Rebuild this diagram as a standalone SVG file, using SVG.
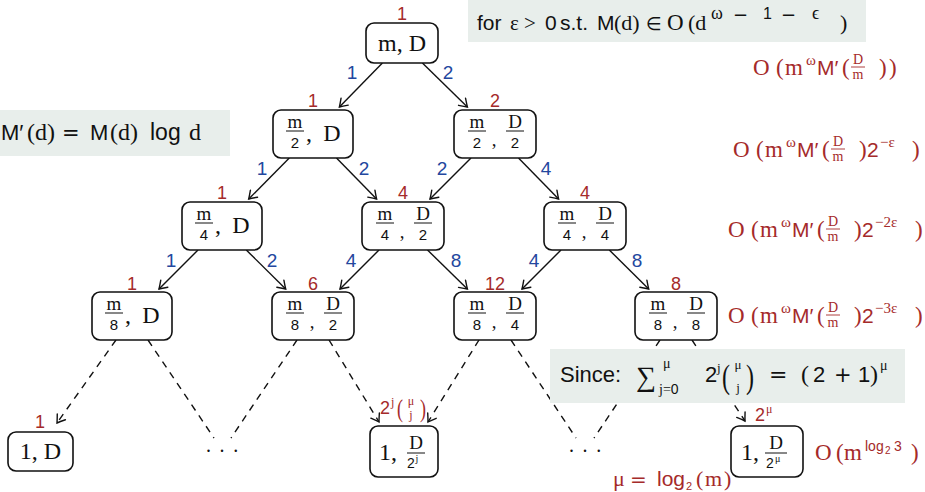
<svg xmlns="http://www.w3.org/2000/svg" width="925" height="492" viewBox="0 0 925 492">
  <defs>
    <marker id="tip" viewBox="-9 -6 11 12" refX="0" refY="0" markerWidth="11" markerHeight="12" markerUnits="userSpaceOnUse" orient="auto">
      <path d="M-7.5,-5 Q-2.5,-1.5 0,0 Q-2.5,1.5 -7.5,5" fill="none" stroke="#111" stroke-width="1.4" stroke-linecap="round"/>
    </marker>
    <style>
      .box{fill:#fff;stroke:#111;stroke-width:1.6}
      .edge{fill:none;stroke:#111;stroke-width:1.4}
      .arrow{marker-end:url(#tip)}
      .dash{stroke-dasharray:7 6}
      .note{fill:#e8eeeb}
      .sf{font-family:"Liberation Sans",Arial,sans-serif}
      .rm{font-family:"Liberation Serif","Times New Roman",serif}
      .op{font-family:"DejaVu Sans","Liberation Sans",sans-serif;font-weight:normal}
      .ink{fill:#111}
      .red{fill:#a52a2a}
      .mid{text-anchor:middle}
      .cnt{font-family:"Liberation Sans",Arial,sans-serif;font-size:18px;fill:#a52a2a;text-anchor:middle}
      .wt{font-family:"Liberation Sans",Arial,sans-serif;font-size:19px;fill:#23479e;text-anchor:middle}
      .num{font-family:"Liberation Serif","Times New Roman",serif;font-size:19px;text-anchor:middle;fill:#111}
      .den{font-family:"Liberation Sans",Arial,sans-serif;font-size:15px;text-anchor:middle;fill:#111}
      .big{font-family:"Liberation Serif","Times New Roman",serif;font-size:24px;fill:#111}
      .bar{stroke:#111;stroke-width:1}
      .rbar{stroke:#a52a2a;stroke-width:0.9}
    </style>
  </defs>

  <!-- side notes -->
  <g id="note-eps" class="ink">
    <rect class="note" x="468" y="-2" width="398" height="44"/>
    <text y="30" font-size="21"><tspan class="sf" x="477">for</tspan><tspan class="rm" x="510">ε</tspan><tspan class="rm" x="524">&gt;</tspan><tspan class="sf" x="545">0</tspan><tspan class="sf" x="560">s.t.</tspan><tspan class="sf" x="597">M</tspan><tspan class="rm" x="614" font-size="22">(d)</tspan><tspan class="op" x="646" font-size="18">∈</tspan><tspan class="rm" x="667" font-size="23">O</tspan><tspan class="rm" x="688" font-size="22">(d</tspan><tspan class="rm" x="840" font-size="22">)</tspan></text>
    <text y="19"><tspan class="rm" x="711" font-size="18">ω</tspan><tspan class="op" x="733" y="21" font-size="18">−</tspan><tspan class="sf" x="763" y="19" font-size="16">1</tspan><tspan class="op" x="781" y="21" font-size="18">−</tspan><tspan class="rm" x="812" y="19" font-size="18">ϵ</tspan></text>
  </g>
  <g id="note-mprime" class="ink">
    <rect class="note" x="-2" y="110" width="232" height="46"/>
    <text y="140" font-size="24"><tspan class="sf" x="1" font-size="22">M′</tspan><tspan class="rm" x="27">(d)</tspan><tspan class="op" x="62" font-size="21">=</tspan><tspan class="sf" x="90" font-size="22">M</tspan><tspan class="rm" x="110">(d)</tspan><tspan class="sf" x="150" font-size="23">log</tspan><tspan class="rm" x="189">d</tspan></text>
  </g>

  <!-- level costs -->
  <g id="cost-0" class="red">
    <text y="75" font-size="23"><tspan class="rm" x="753">O</tspan><tspan class="rm" x="776">(</tspan><tspan class="rm" x="785">m</tspan><tspan class="rm" x="806" y="65" font-size="15">ω</tspan><tspan class="sf" x="817" y="75" font-size="21">M′</tspan><tspan class="rm" x="842">(</tspan><tspan class="rm" x="879">)</tspan><tspan class="rm" x="889">)</tspan></text>
    <text class="rm mid" x="858" y="64" font-size="14">D</text>
    <line class="rbar" x1="851" y1="67" x2="865" y2="67"/>
    <text class="rm mid" x="858" y="79" font-size="14">m</text>
  </g>
  <g id="cost-1" class="red">
    <text y="157" font-size="23"><tspan class="rm" x="733">O</tspan><tspan class="rm" x="756">(</tspan><tspan class="rm" x="765">m</tspan><tspan class="rm" x="786" y="147" font-size="15">ω</tspan><tspan class="sf" x="797" y="157" font-size="21">M′</tspan><tspan class="rm" x="822">(</tspan><tspan class="rm" x="859">)</tspan><tspan class="sf" x="867" font-size="21">2</tspan><tspan class="rm" x="880" y="147" font-size="15">−ε</tspan><tspan class="rm" x="912" y="157">)</tspan></text>
    <text class="rm mid" x="838" y="146" font-size="14">D</text>
    <line class="rbar" x1="831" y1="149" x2="845" y2="149"/>
    <text class="rm mid" x="838" y="161" font-size="14">m</text>
  </g>
  <g id="cost-2" class="red">
    <text y="237" font-size="23"><tspan class="rm" x="728">O</tspan><tspan class="rm" x="751">(</tspan><tspan class="rm" x="760">m</tspan><tspan class="rm" x="781" y="227" font-size="15">ω</tspan><tspan class="sf" x="792" y="237" font-size="21">M′</tspan><tspan class="rm" x="817">(</tspan><tspan class="rm" x="854">)</tspan><tspan class="sf" x="862" font-size="21">2</tspan><tspan class="rm" x="875" y="227" font-size="15">−2ε</tspan><tspan class="rm" x="915" y="237">)</tspan></text>
    <text class="rm mid" x="833" y="226" font-size="14">D</text>
    <line class="rbar" x1="826" y1="229" x2="840" y2="229"/>
    <text class="rm mid" x="833" y="241" font-size="14">m</text>
  </g>
  <g id="cost-3" class="red">
    <text y="323" font-size="23"><tspan class="rm" x="728">O</tspan><tspan class="rm" x="751">(</tspan><tspan class="rm" x="760">m</tspan><tspan class="rm" x="781" y="313" font-size="15">ω</tspan><tspan class="sf" x="792" y="323" font-size="21">M′</tspan><tspan class="rm" x="817">(</tspan><tspan class="rm" x="854">)</tspan><tspan class="sf" x="862" font-size="21">2</tspan><tspan class="rm" x="875" y="313" font-size="15">−3ε</tspan><tspan class="rm" x="915" y="323">)</tspan></text>
    <text class="rm mid" x="833" y="312" font-size="14">D</text>
    <line class="rbar" x1="826" y1="315" x2="840" y2="315"/>
    <text class="rm mid" x="833" y="327" font-size="14">m</text>
  </g>
  <g id="cost-leaf" class="red">
    <text y="460" font-size="23"><tspan class="rm" x="815">O</tspan><tspan class="rm" x="836">(</tspan><tspan class="rm" x="844">m</tspan><tspan class="sf" x="865" y="451" font-size="14">log</tspan><tspan class="sf" x="885" y="454" font-size="10">2</tspan><tspan class="sf" x="894" y="451" font-size="14">3</tspan><tspan class="rm" x="911" y="460">)</tspan></text>
  </g>
  <g id="depth" class="red">
    <text y="486" font-size="22"><tspan class="rm" x="613">μ</tspan><tspan class="op" x="630" font-size="20">=</tspan><tspan class="sf" x="657" font-size="21">log</tspan><tspan class="sf" x="686" y="490" font-size="11">2</tspan><tspan class="rm" x="696" y="486">(</tspan><tspan class="rm" x="705">m</tspan><tspan class="rm" x="724">)</tspan></text>
  </g>

  <!-- connectors -->
  <g id="edges">
    <line class="edge arrow" x1="382.4" y1="63" x2="339.4" y2="107"/>
    <line class="edge arrow" x1="422.4" y1="63" x2="467.4" y2="107"/>
    <line class="edge arrow" x1="289.3" y1="158" x2="248.7" y2="199"/>
    <line class="edge arrow" x1="336.5" y1="158" x2="376.6" y2="199"/>
    <line class="edge arrow" x1="471" y1="158" x2="430" y2="199"/>
    <line class="edge arrow" x1="518.5" y1="158" x2="558.6" y2="199"/>
    <line class="edge arrow" x1="198" y1="250" x2="159" y2="289"/>
    <line class="edge arrow" x1="246.3" y1="250" x2="285.7" y2="289"/>
    <line class="edge arrow" x1="379" y1="250" x2="340" y2="289"/>
    <line class="edge arrow" x1="427.5" y1="250" x2="467.4" y2="289"/>
    <line class="edge arrow" x1="561" y1="250" x2="522" y2="289"/>
    <line class="edge arrow" x1="609.3" y1="250" x2="648.7" y2="289"/>

    <line class="edge dash arrow" x1="116" y1="340" x2="57" y2="423"/>
    <line class="edge dash" x1="148" y1="340" x2="214" y2="438"/>
    <line class="edge dash" x1="297" y1="340" x2="231" y2="438"/>
    <line class="edge dash arrow" x1="329" y1="340" x2="379" y2="422"/>
    <line class="edge dash arrow" x1="479" y1="340" x2="428" y2="422"/>
    <line class="edge dash" x1="511" y1="340" x2="576" y2="438"/>
    <line class="edge dash" x1="660" y1="340" x2="594" y2="438"/>
    <line class="edge dash arrow" x1="692" y1="340" x2="745" y2="421"/>

    <text class="wt" x="352" y="79">1</text>
    <text class="wt" x="448" y="79">2</text>
    <text class="wt" x="262" y="175">1</text>
    <text class="wt" x="364" y="175">2</text>
    <text class="wt" x="442" y="175">2</text>
    <text class="wt" x="546" y="175">4</text>
    <text class="wt" x="171" y="267">1</text>
    <text class="wt" x="272" y="267">2</text>
    <text class="wt" x="351" y="267">4</text>
    <text class="wt" x="456" y="267">8</text>
    <text class="wt" x="534" y="267">4</text>
    <text class="wt" x="637" y="267">8</text>
  </g>

  <!-- level 0 -->
  <g id="n-root">
    <rect class="box" x="366" y="23" width="72" height="40" rx="8"/>
    <text class="big mid" x="402" y="51">m, D</text>
    <text class="cnt" x="402" y="20">1</text>
  </g>

  <!-- level 1 -->
  <g id="n-m2-D">
    <rect class="box" x="273" y="110" width="80" height="48" rx="8"/>
    <text class="num" x="295" y="128">m</text>
    <line class="bar" x1="286" y1="131" x2="304" y2="131"/>
    <text class="den" x="295" y="148">2</text>
    <text class="big" x="306" y="141">,</text>
    <text class="big mid" x="332" y="141">D</text>
    <text class="cnt" x="313" y="107">1</text>
  </g>
  <g id="n-m2-D2">
    <rect class="box" x="454" y="110" width="82" height="48" rx="8"/>
    <text class="num" x="477" y="128">m</text>
    <line class="bar" x1="468" y1="131" x2="486" y2="131"/>
    <text class="den" x="477" y="148">2</text>
    <text class="num" x="494" y="146">,</text>
    <text class="num" x="515" y="128">D</text>
    <line class="bar" x1="506" y1="131" x2="524" y2="131"/>
    <text class="den" x="515" y="148">2</text>
    <text class="cnt" x="495" y="107">2</text>
  </g>

  <!-- level 2 -->
  <g id="n-m4-D">
    <rect class="box" x="182" y="202" width="80" height="48" rx="8"/>
    <text class="num" x="204" y="220">m</text>
    <line class="bar" x1="195" y1="223" x2="213" y2="223"/>
    <text class="den" x="204" y="240">4</text>
    <text class="big" x="215" y="233">,</text>
    <text class="big mid" x="241" y="233">D</text>
    <text class="cnt" x="222" y="199">1</text>
  </g>
  <g id="n-m4-D2">
    <rect class="box" x="362" y="202" width="82" height="48" rx="8"/>
    <text class="num" x="385" y="220">m</text>
    <line class="bar" x1="376" y1="223" x2="394" y2="223"/>
    <text class="den" x="385" y="240">4</text>
    <text class="num" x="402" y="238">,</text>
    <text class="num" x="423" y="220">D</text>
    <line class="bar" x1="414" y1="223" x2="432" y2="223"/>
    <text class="den" x="423" y="240">2</text>
    <text class="cnt" x="403" y="199">4</text>
  </g>
  <g id="n-m4-D4">
    <rect class="box" x="544" y="202" width="82" height="48" rx="8"/>
    <text class="num" x="567" y="220">m</text>
    <line class="bar" x1="558" y1="223" x2="576" y2="223"/>
    <text class="den" x="567" y="240">4</text>
    <text class="num" x="584" y="238">,</text>
    <text class="num" x="605" y="220">D</text>
    <line class="bar" x1="596" y1="223" x2="614" y2="223"/>
    <text class="den" x="605" y="240">4</text>
    <text class="cnt" x="585" y="199">4</text>
  </g>

  <!-- level 3 -->
  <g id="n-m8-D">
    <rect class="box" x="92" y="292" width="80" height="48" rx="8"/>
    <text class="num" x="114" y="310">m</text>
    <line class="bar" x1="105" y1="313" x2="123" y2="313"/>
    <text class="den" x="114" y="330">8</text>
    <text class="big" x="125" y="323">,</text>
    <text class="big mid" x="151" y="323">D</text>
    <text class="cnt" x="132" y="290">1</text>
  </g>
  <g id="n-m8-D2">
    <rect class="box" x="272" y="292" width="82" height="48" rx="8"/>
    <text class="num" x="295" y="310">m</text>
    <line class="bar" x1="286" y1="313" x2="304" y2="313"/>
    <text class="den" x="295" y="330">8</text>
    <text class="num" x="312" y="328">,</text>
    <text class="num" x="333" y="310">D</text>
    <line class="bar" x1="324" y1="313" x2="342" y2="313"/>
    <text class="den" x="333" y="330">2</text>
    <text class="cnt" x="313" y="290">6</text>
  </g>
  <g id="n-m8-D4">
    <rect class="box" x="454" y="292" width="82" height="48" rx="8"/>
    <text class="num" x="477" y="310">m</text>
    <line class="bar" x1="468" y1="313" x2="486" y2="313"/>
    <text class="den" x="477" y="330">8</text>
    <text class="num" x="494" y="328">,</text>
    <text class="num" x="515" y="310">D</text>
    <line class="bar" x1="506" y1="313" x2="524" y2="313"/>
    <text class="den" x="515" y="330">4</text>
    <text class="cnt" x="495" y="290">12</text>
  </g>
  <g id="n-m8-D8">
    <rect class="box" x="635" y="292" width="82" height="48" rx="8"/>
    <text class="num" x="658" y="310">m</text>
    <line class="bar" x1="649" y1="313" x2="667" y2="313"/>
    <text class="den" x="658" y="330">8</text>
    <text class="num" x="675" y="328">,</text>
    <text class="num" x="696" y="310">D</text>
    <line class="bar" x1="687" y1="313" x2="705" y2="313"/>
    <text class="den" x="696" y="330">8</text>
    <text class="cnt" x="676" y="290">8</text>
  </g>

  <!-- leaves -->
  <g id="n-leaf-D">
    <rect class="box" x="8" y="432" width="65" height="39" rx="8"/>
    <text class="big mid" x="40.5" y="459">1, D</text>
    <text class="cnt" x="40" y="428">1</text>
  </g>
  <g id="n-dots-1">
    <text class="rm ink mid" x="223" y="452" font-size="20" letter-spacing="1.8">. . .</text>
  </g>
  <g id="n-leaf-j">
    <rect class="box" x="370" y="426" width="68" height="51" rx="8"/>
    <text class="big" x="379" y="460">1,</text>
    <text class="num" x="416" y="449">D</text>
    <line class="bar" x1="407" y1="453" x2="425" y2="453"/>
    <text class="sf ink" x="407" y="468" font-size="14">2</text>
    <text class="rm ink" x="415.5" y="462" font-size="10">j</text>
    <text class="sf red" x="380" y="414" font-size="18">2</text>
    <text class="rm red" x="391" y="406" font-size="12">j</text>
    <text class="rm red" transform="translate(397,417) scale(1,1.35)" font-size="18">(</text>
    <text class="rm red mid" x="411" y="405" font-size="12">μ</text>
    <text class="rm red mid" x="411" y="419" font-size="12">j</text>
    <text class="rm red" transform="translate(420,417) scale(1,1.35)" font-size="18">)</text>
  </g>
  <g id="n-dots-2">
    <text class="rm ink mid" x="586" y="452" font-size="20" letter-spacing="1.8">. . .</text>
  </g>
  <g id="n-leaf-mu">
    <rect class="box" x="731" y="426" width="72" height="51" rx="8"/>
    <text class="big" x="741" y="460">1,</text>
    <text class="num" x="776" y="449">D</text>
    <line class="bar" x1="765" y1="453" x2="787" y2="453"/>
    <text class="sf ink" x="766" y="468" font-size="14">2</text>
    <text class="rm ink" x="775" y="462" font-size="10">μ</text>
    <text class="sf red" x="755" y="421" font-size="18">2</text>
    <text class="rm red" x="766" y="413" font-size="12">μ</text>
  </g>

  <!-- identity used for the leaf count -->
  <g id="note-sum" class="ink">
    <rect class="note" x="550" y="349" width="355" height="54"/>
    <text class="sf" x="560" y="382" font-size="22">Since:</text>
    <text class="rm" x="636" y="386" font-size="28">∑</text>
    <text class="rm" x="663" y="368" font-size="14">μ</text>
    <text x="659" y="394" font-size="14"><tspan class="rm">j=</tspan><tspan class="sf">0</tspan></text>
    <text class="sf" x="705" y="382" font-size="22">2</text>
    <text class="rm" x="717" y="372" font-size="13">j</text>
    <text class="rm" transform="translate(722,388) scale(1,1.4)" font-size="24">(</text>
    <text class="rm mid" x="738" y="369" font-size="13">μ</text>
    <text class="rm mid" x="738" y="392" font-size="13">j</text>
    <text class="rm" transform="translate(746,388) scale(1,1.4)" font-size="24">)</text>
    <text y="382"><tspan class="op" x="769" font-size="22">=</tspan><tspan class="rm" x="801" font-size="24">(</tspan><tspan class="sf" x="813" font-size="22">2</tspan><tspan class="op" x="834" font-size="21">+</tspan><tspan class="sf" x="858" font-size="22">1</tspan><tspan class="rm" x="870" font-size="24">)</tspan></text>
    <text class="rm" x="880" y="370" font-size="14">μ</text>
  </g>
</svg>
